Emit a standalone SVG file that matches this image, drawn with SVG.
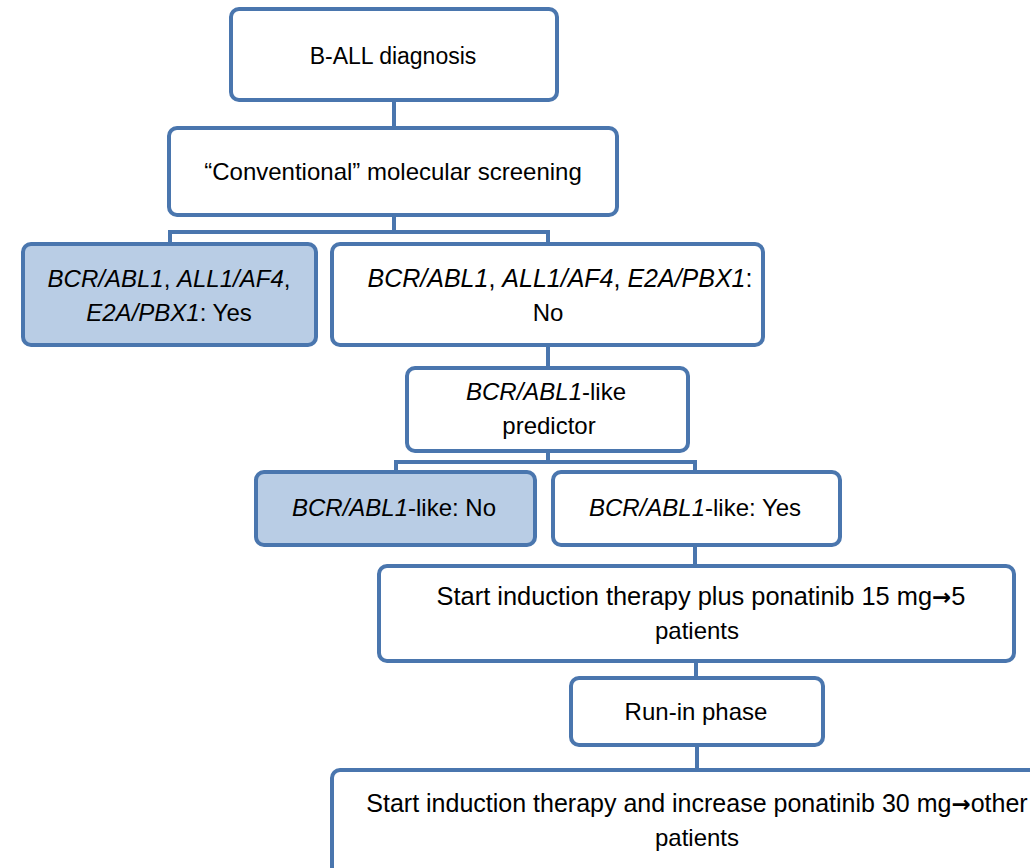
<svg xmlns="http://www.w3.org/2000/svg" width="1030" height="868" viewBox="0 0 1030 868">
<style>
.box{fill:#ffffff;stroke:#4a76ae;stroke-width:4}
.blue{fill:#b9cde5}
.conn{fill:none;stroke:#4a76ae;stroke-width:4}
text{font-family:"Liberation Sans",Arial,sans-serif;font-size:24px;fill:#000;text-anchor:middle}
.i{font-style:italic}
.ar{font-family:"DejaVu Sans",sans-serif;font-weight:bold;font-size:23px}
</style>
<rect width="1030" height="868" fill="#ffffff"/>
<g id="connectors">
<path class="conn" d="M394 100V128"/>
<path class="conn" d="M394 215V232M170 244V232H548V244"/>
<path class="conn" d="M548 345V368"/>
<path class="conn" d="M548 451V462M396 472V462H695V472"/>
<path class="conn" d="M695 545V566"/>
<path class="conn" d="M696 661V678"/>
<path class="conn" d="M697 745V770"/>
</g>
<g id="n1"><rect class="box" x="231" y="9" width="326" height="91" rx="8"/>
<text x="393" y="64" style="font-size:23px">B-ALL diagnosis</text></g>
<g id="n2"><rect class="box" x="169" y="128" width="448" height="87" rx="8"/>
<text x="393" y="180">“Conventional” molecular screening</text></g>
<g id="n3"><rect class="box blue" x="23" y="244" width="293" height="101" rx="8"/>
<text x="169" y="287"><tspan class="i">BCR/ABL1</tspan>, <tspan class="i">ALL1/AF4</tspan>,</text>
<text x="169" y="321"><tspan class="i">E2A/PBX1</tspan>: Yes</text></g>
<g id="n4"><rect class="box" x="332" y="244" width="431" height="101" rx="8"/>
<text x="560" y="287" style="font-size:25px"><tspan class="i">BCR/ABL1</tspan>, <tspan class="i">ALL1/AF4</tspan>, <tspan class="i">E2A/PBX1</tspan>:</text>
<text x="548" y="321">No</text></g>
<g id="n5"><rect class="box" x="407" y="368" width="281" height="83" rx="8"/>
<text x="546" y="400"><tspan class="i">BCR/ABL1</tspan>-like</text>
<text x="549" y="434">predictor</text></g>
<g id="n6"><rect class="box blue" x="256" y="472" width="279" height="73" rx="8"/>
<text x="394" y="516"><tspan class="i">BCR/ABL1</tspan>-like: No</text></g>
<g id="n7"><rect class="box" x="553" y="472" width="287" height="73" rx="8"/>
<text x="695" y="516"><tspan class="i">BCR/ABL1</tspan>-like: Yes</text></g>
<g id="n8"><rect class="box" x="379" y="566" width="635" height="95" rx="8"/>
<text x="701" y="605" style="font-size:25.4px">Start induction therapy plus ponatinib 15 mg<tspan class="ar">→</tspan>5</text>
<text x="697" y="639">patients</text></g>
<g id="n9"><rect class="box" x="571" y="678" width="252" height="67" rx="8"/>
<text x="696" y="720">Run-in phase</text></g>
<g id="n10"><rect class="box" x="332" y="770" width="730" height="110" rx="8"/>
<text x="697" y="812" style="font-size:25px">Start induction therapy and increase ponatinib 30 mg<tspan class="ar">→</tspan>other</text>
<text x="697" y="846">patients</text></g>
</svg>
